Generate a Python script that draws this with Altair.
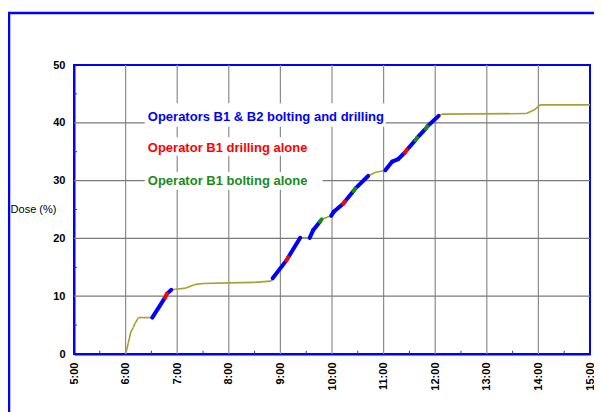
import altair as alt
import pandas as pd

# ---- curve data (time, dose %) and activity state of each segment ----
times = ["6:00", "6:03", "6:06", "6:09", "6:11", "6:15", "6:31", "6:46", "6:48", "6:53",
         "6:58", "7:10", "7:20", "7:30", "8:00", "8:30", "8:49", "8:51", "9:07", "9:09",
         "9:23", "9:34", "9:38", "9:46", "9:48", "9:59", "10:02", "10:13", "10:15", "10:25",
         "10:27", "10:42", "10:50", "11:02", "11:10", "11:17", "11:25", "11:27", "11:37", "11:39",
         "11:49", "11:51", "12:04", "12:08", "13:46", "13:55", "14:02", "15:00"]
dose = [0.0, 1.8, 3.8, 4.6, 5.3, 6.3, 6.3, 9.8, 10.4, 11.1,
        11.2, 11.4, 12.0, 12.2, 12.3, 12.4, 12.6, 13.1, 16.2, 16.7,
        20.1, 20.1, 21.4, 22.9, 23.3, 23.9, 24.6, 26.0, 26.4, 28.2,
        28.6, 30.8, 31.4, 31.8, 33.3, 33.7, 34.9, 35.3, 37.0, 37.4,
        39.0, 39.4, 41.2, 41.5, 41.6, 42.2, 43.1, 43.1]
# state of the segment that starts at each point: O=none, B=B1&B2, D=B1 drilling, G=B1 bolting
state = ["O", "O", "O", "O", "O", "O", "B", "D", "B", "O",
         "O", "O", "O", "O", "O", "O", "O", "B", "D", "B",
         "O", "B", "B", "G", "O", "B", "B", "D", "B", "G",
         "B", "O", "O", "B", "B", "B", "D", "B", "G", "B",
         "G", "B", "O", "O", "O", "O", "O"]

# ---- annotations ----
labels = ["Operators B1 & B2 bolting and drilling", "Operator B1 drilling alone", "Operator B1 bolting alone"]
label_colors = ["#0000ff", "#ff0000", "#1b8a1b"]
label_t = [6.43, 6.43, 6.43]
label_dose = [41.0, 35.6, 29.9]
box_t = [6.37, 6.37, 6.37]
box_t2 = [11.04, 9.55, 9.82]
box_dose = [43.4, 37.5, 31.5]
box_dose2 = [39.3, 34.3, 28.4]

grid_x = [6, 7, 8, 9, 10, 11, 12, 13, 14]
grid_y = [10, 20, 30, 40]
minor_x = [5.5, 6.5, 7.5, 8.5, 9.5, 10.5, 11.5, 12.5, 13.5, 14.5]
minor_y = [5, 15, 25, 35, 45]
x_ticks = [5, 6, 7, 8, 9, 10, 11, 12, 13, 14, 15]
y_ticks = [0, 10, 20, 30, 40, 50]

FONT = "Liberation Sans"
BLUE = "#0000ff"
OLIVE = "#a8a032"


def to_h(s):
    h, m = s.split(":")
    return int(h) + int(m) / 60.0


rows = []
for i in range(len(times) - 1):
    for j in (i, i + 1):
        rows.append({"seg": i, "t": to_h(times[j]), "dose": dose[j], "state": state[i]})
seg_df = pd.DataFrame(rows)

xs = alt.Scale(domain=[5, 15], nice=False, zero=False)
ys = alt.Scale(domain=[0, 50], nice=False)

x_axis = alt.Axis(values=x_ticks, labelExpr="datum.value + ':00'", labelAngle=-90,
                  labelAlign="right", labelBaseline="middle", labelPadding=8,
                  labelFont=FONT, labelFontSize=11, labelFontWeight="bold", labelColor="black",
                  ticks=False, grid=False, domainColor=BLUE, domainWidth=2, title="")
y_axis = alt.Axis(values=y_ticks, labelPadding=9, labelFont=FONT, labelFontSize=11,
                  labelFontWeight="bold", labelColor="black", ticks=False, grid=False,
                  domainColor=BLUE, domainWidth=2, title="Dose (%)", titleAngle=0,
                  titleFont=FONT, titleFontSize=11, titleFontWeight="normal", titleColor="black",
                  titleX=-41, titleY=144.5, titleAlign="center", titleBaseline="middle")


def X(f):
    return alt.X(f, scale=xs, axis=x_axis)


def Y(f):
    return alt.Y(f, scale=ys, axis=y_axis)


one = pd.DataFrame({"a": [0]})
frame = alt.Chart(one).mark_rect(fill=None, stroke=BLUE, strokeWidth=2.5).encode(
    x=alt.value(-65), x2=alt.value(560), y=alt.value(-52), y2=alt.value(400))

gx = alt.Chart(pd.DataFrame({"g": grid_x})).mark_rule(color="#8c8c8c", strokeWidth=1.2).encode(
    x=X("g:Q"))
gy = alt.Chart(pd.DataFrame({"g": grid_y})).mark_rule(color="#7a7a7a", strokeWidth=1.2).encode(
    y=Y("g:Q"))

mx = alt.Chart(pd.DataFrame({"m": minor_x, "y0": [0] * len(minor_x), "y1": [0.55] * len(minor_x)})).mark_rule(
    color="#333388", strokeWidth=1).encode(x=X("m:Q"), y=Y("y0:Q"), y2="y1:Q")
my = alt.Chart(pd.DataFrame({"m": minor_y, "x0": [5] * len(minor_y), "x1": [5.06] * len(minor_y)})).mark_rule(
    color="#333388", strokeWidth=1).encode(y=Y("m:Q"), x=X("x0:Q"), x2="x1:Q")

base = alt.Chart(seg_df)
olive = base.transform_filter("datum.state == 'O'").mark_line(color=OLIVE, strokeWidth=1.6).encode(
    x=X("t:Q"), y=Y("dose:Q"), detail="seg:N")
blue = base.transform_filter("datum.state == 'B'").mark_line(color=BLUE, strokeWidth=4, strokeCap="round").encode(
    x=X("t:Q"), y=Y("dose:Q"), detail="seg:N")
others = base.transform_filter("datum.state == 'D' || datum.state == 'G'").mark_line(
    strokeWidth=4, strokeCap="round").encode(
    x=X("t:Q"), y=Y("dose:Q"), detail="seg:N",
    color=alt.Color("state:N", scale=alt.Scale(domain=["D", "G"], range=["#ff0000", "#1b8a1b"]), legend=None))

boxes = alt.Chart(pd.DataFrame({"b": box_t, "b2": box_t2, "d": box_dose, "d2": box_dose2})).mark_rect(
    fill="white").encode(x=X("b:Q"), x2="b2:Q", y=Y("d:Q"), y2="d2:Q")

texts = alt.Chart(pd.DataFrame({"label": labels, "c": label_colors, "t": label_t, "d": label_dose})).mark_text(
    align="left", baseline="middle", font=FONT, fontSize=13, fontWeight="bold").encode(
    x=X("t:Q"), y=Y("d:Q"), text="label:N", color=alt.Color("c:N", scale=None))

chart = alt.layer(frame, gx, gy, mx, my, olive, blue, others, boxes, texts).properties(
    width=516, height=289,
    autosize=alt.AutoSizeParams(type="none"),
    padding={"left": 66, "top": 57, "right": 4, "bottom": 58},
    background="white",
).configure_view(stroke=BLUE, strokeWidth=2)

chart.save("out.html", embed_options={"renderer": "svg", "actions": False})
